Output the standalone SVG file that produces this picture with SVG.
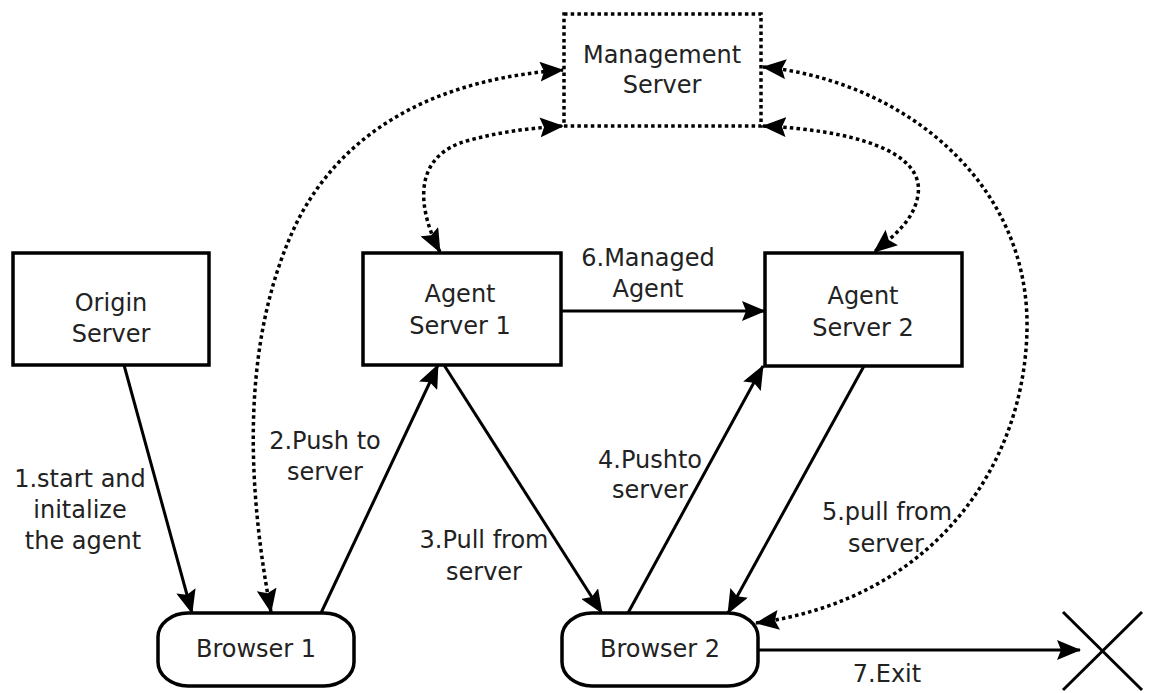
<svg xmlns="http://www.w3.org/2000/svg" width="1149" height="693" viewBox="0 0 1149 693">
  <style>
    .box { fill: #fff; stroke: #000; stroke-width: 3.5; }
    .dotbox { fill: #fff; stroke: #000; stroke-width: 3.5; stroke-dasharray: 3.5 3.2; }
    .lbl { font-family: "DejaVu Sans", "Liberation Sans", sans-serif; font-size: 24px; fill: #222; text-anchor: middle; }
    .solid { fill: none; stroke: #000; stroke-width: 3; marker-end: url(#head); }
    .dotted { fill: none; stroke: #000; stroke-width: 3.5; stroke-dasharray: 3.5 3.2; marker-start: url(#head); marker-end: url(#head); }
    .cross { stroke: #000; stroke-width: 3; }
  </style>
  <defs>
    <marker id="head" viewBox="0 0 24 20" refX="23" refY="10" markerWidth="24" markerHeight="20" markerUnits="userSpaceOnUse" orient="auto-start-reverse">
      <path d="M0,0 L24,10 L0,20 L4,10 z" fill="#000" stroke="none"/>
    </marker>
  </defs>
  <rect width="1149" height="693" fill="#fff"/>

  <!-- connectors -->
  <g id="connectors">
    <!-- 1: origin -> browser 1 -->
    <line class="solid" x1="124" y1="365" x2="192" y2="613"/>
    <!-- 2: browser 1 -> agent server 1 -->
    <line class="solid" x1="321" y1="613" x2="438" y2="365"/>
    <!-- 3: agent server 1 -> browser 2 -->
    <line class="solid" x1="444" y1="365" x2="602" y2="613"/>
    <!-- 4: browser 2 -> agent server 2 -->
    <line class="solid" x1="628" y1="613" x2="763" y2="366"/>
    <!-- 5: agent server 2 -> browser 2 -->
    <line class="solid" x1="864" y1="366" x2="728" y2="613"/>
    <!-- 6: agent server 1 -> agent server 2 -->
    <line class="solid" x1="561" y1="311" x2="765" y2="311"/>
    <!-- 7: browser 2 -> exit -->
    <line class="solid" x1="758" y1="650" x2="1080" y2="650"/>

    <!-- management links -->
    <path class="dotted" d="M271,612 C244,470 244,330 298,220 C350,120 450,78 563,70"/>
    <path class="dotted" d="M440,252 C418,210 410,155 470,140 C500,132 530,128 563,126"/>
    <path class="dotted" d="M763,67 C900,80 1030,180 1027,330 C1024,470 930,600 756,623"/>
    <path class="dotted" d="M763,126 C850,130 925,150 918,195 C914,220 895,235 874,252"/>

    <text class="lbl" x="80" y="487">1.start and</text>
    <text class="lbl" x="80" y="518">initalize</text>
    <text class="lbl" x="83" y="549">the agent</text>
    <text class="lbl" x="325" y="449">2.Push to</text>
    <text class="lbl" x="325" y="480">server</text>
    <text class="lbl" x="484" y="548">3.Pull from</text>
    <text class="lbl" x="484" y="580">server</text>
    <text class="lbl" x="650" y="468">4.Pushto</text>
    <text class="lbl" x="650" y="498">server</text>
    <text class="lbl" x="887" y="520">5.pull from</text>
    <text class="lbl" x="886" y="552">server</text>
    <text class="lbl" x="648" y="266">6.Managed</text>
    <text class="lbl" x="648" y="297">Agent</text>
    <text class="lbl" x="887" y="682">7.Exit</text>
  </g>

  <g id="management-server">
    <rect class="dotbox" x="564" y="14" width="197" height="112"/>
    <text class="lbl" x="662" y="63">Management</text>
    <text class="lbl" x="662" y="93">Server</text>
  </g>

  <g id="origin-server">
    <rect class="box" x="13" y="253" width="196" height="112"/>
    <text class="lbl" x="111" y="311">Origin</text>
    <text class="lbl" x="111" y="342">Server</text>
  </g>

  <g id="agent-server-1">
    <rect class="box" x="363" y="253" width="198" height="112"/>
    <text class="lbl" x="460" y="302">Agent</text>
    <text class="lbl" x="460" y="334">Server 1</text>
  </g>

  <g id="agent-server-2">
    <rect class="box" x="765" y="253" width="197" height="113"/>
    <text class="lbl" x="863" y="304">Agent</text>
    <text class="lbl" x="863" y="336">Server 2</text>
  </g>

  <g id="browser-1">
    <rect class="box" x="158" y="613" width="196" height="73" rx="30" ry="24"/>
    <text class="lbl" x="256" y="657">Browser 1</text>
  </g>

  <g id="browser-2">
    <rect class="box" x="562" y="613" width="196" height="73" rx="30" ry="24"/>
    <text class="lbl" x="660" y="657">Browser 2</text>
  </g>

  <g id="exit">
    <line class="cross" x1="1063" y1="612" x2="1142" y2="690"/>
    <line class="cross" x1="1142" y1="612" x2="1063" y2="690"/>
  </g>
</svg>
